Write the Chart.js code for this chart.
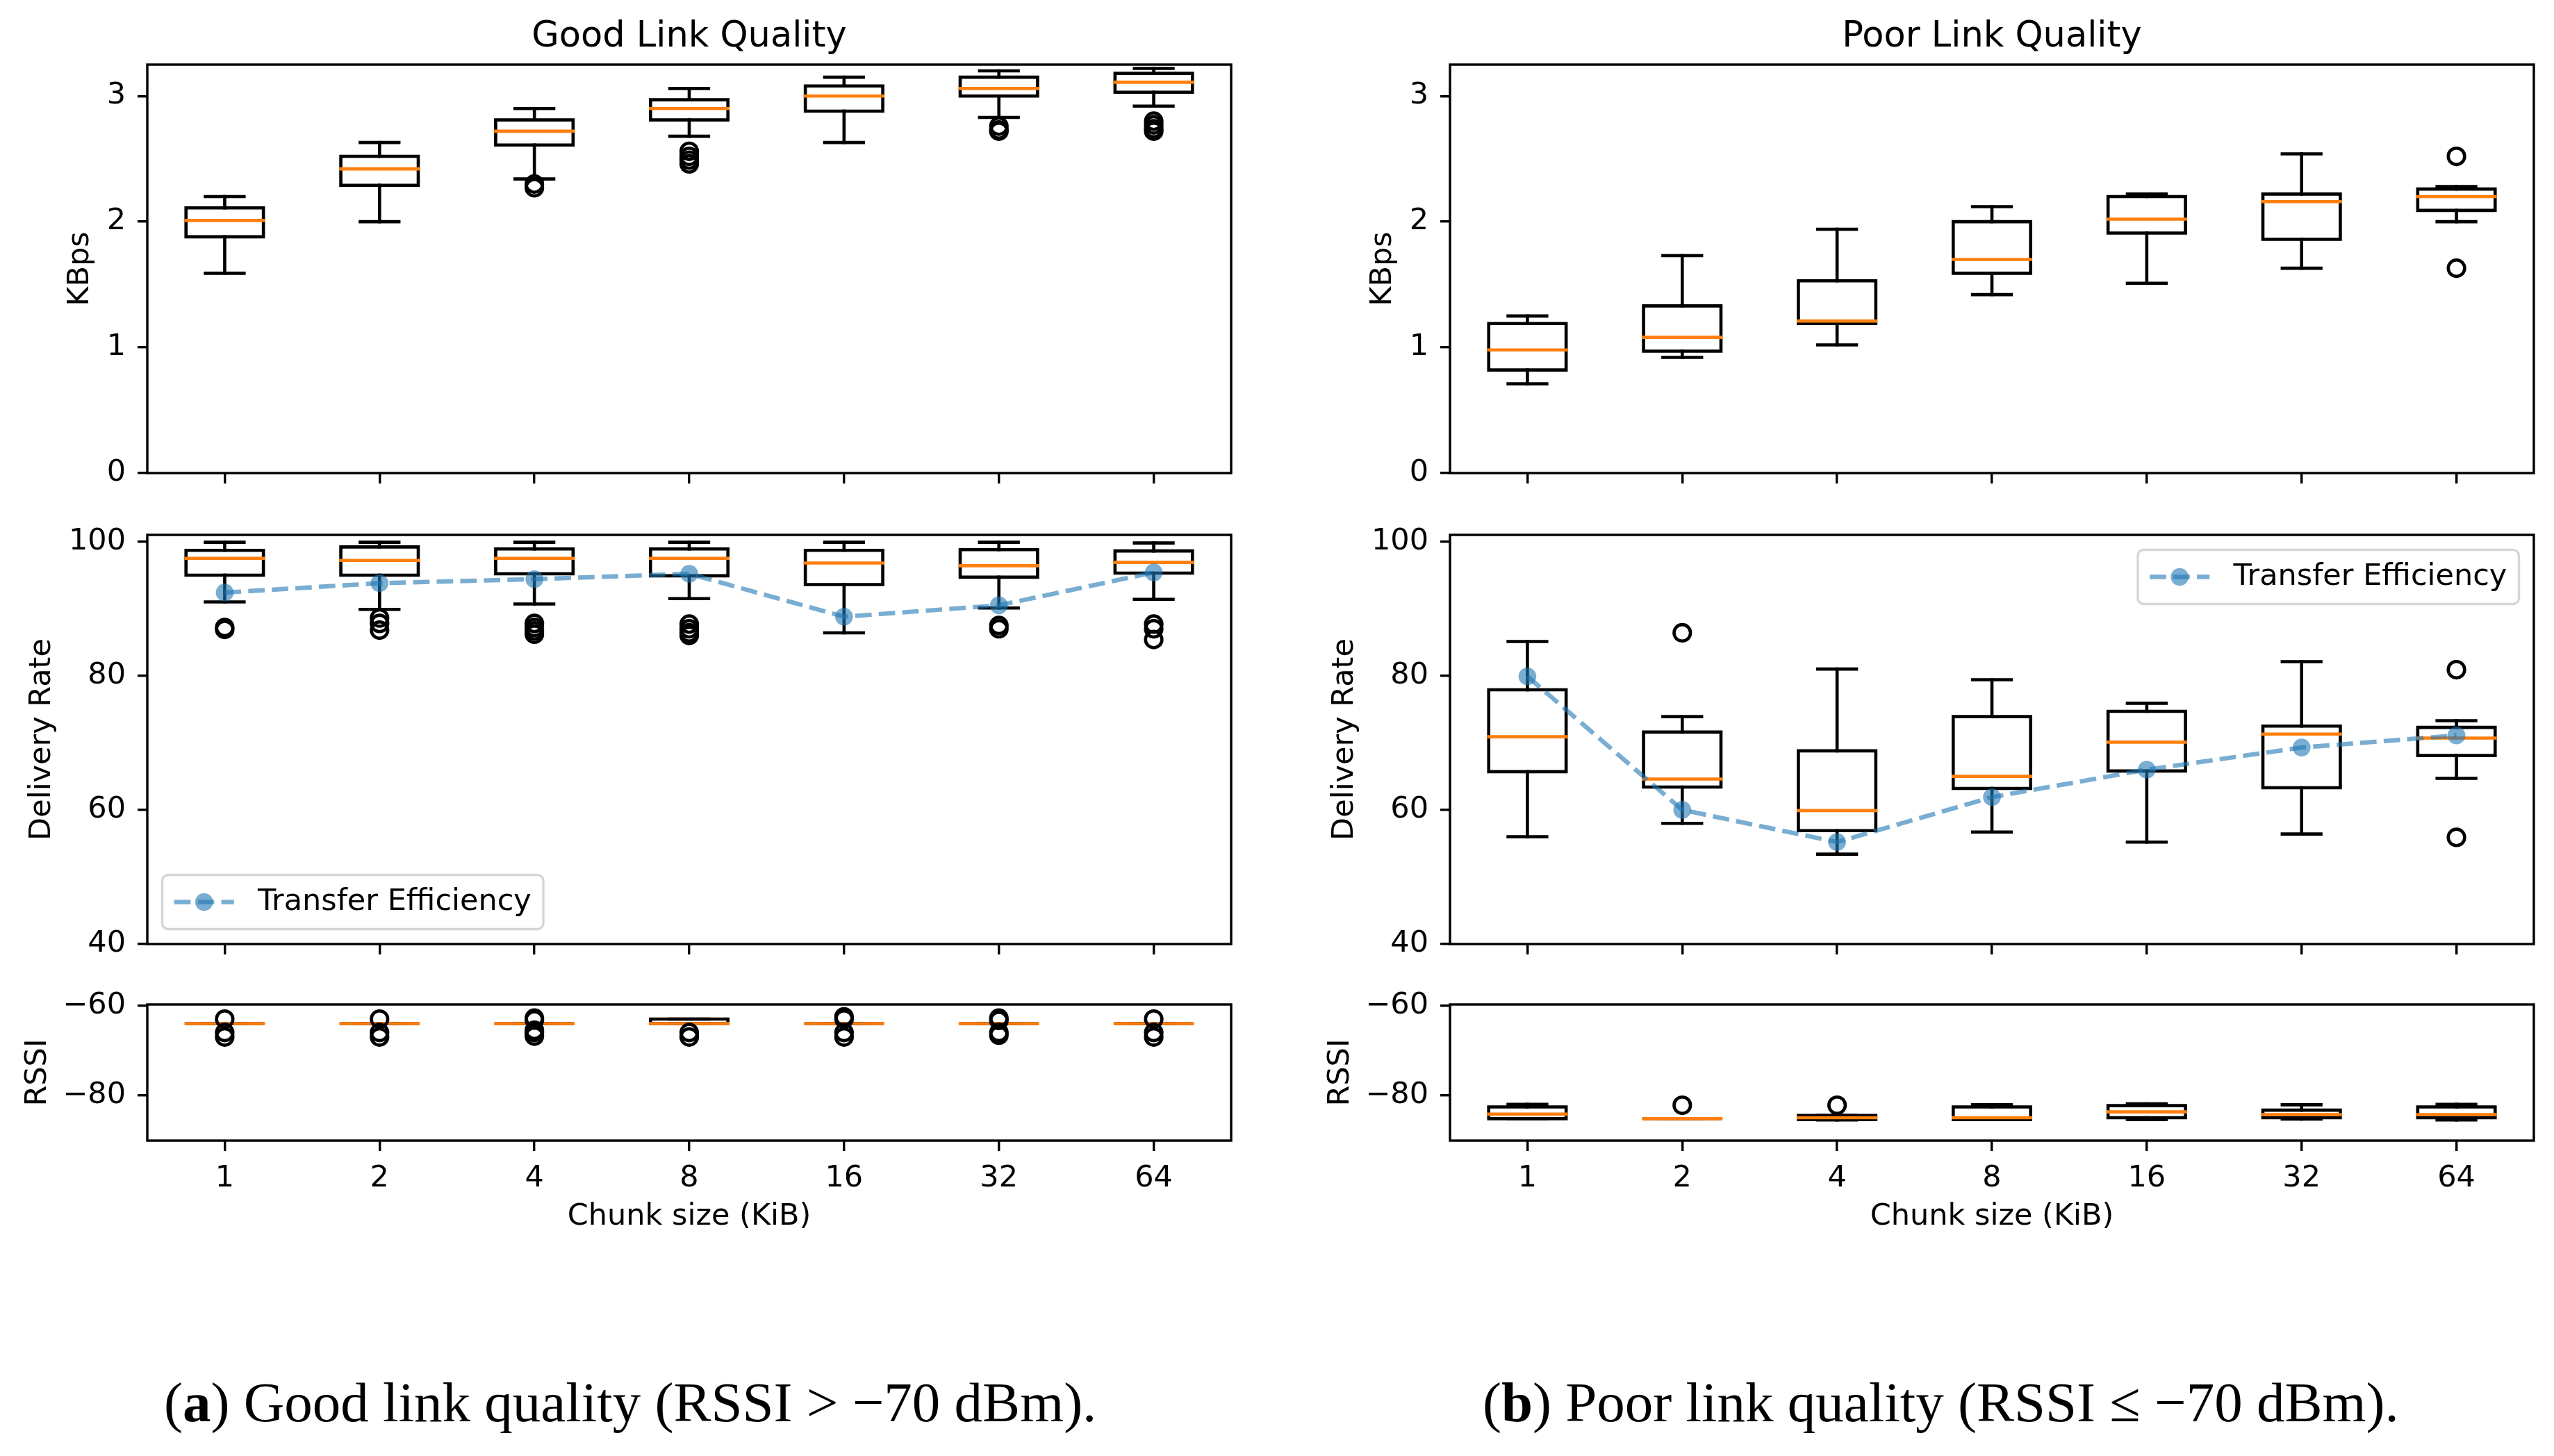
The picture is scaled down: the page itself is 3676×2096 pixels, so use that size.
<!DOCTYPE html>
<html>
<head>
<meta charset="utf-8">
<title>Chunk size vs throughput / delivery / RSSI</title>
<script src="https://cdn.jsdelivr.net/npm/chart.js@4.4.1/dist/chart.umd.min.js"></script>
<style>
    html, body { margin: 0; padding: 0; background: #fff; }
    #page { position: relative; width: 3676px; height: 2096px; overflow: hidden; background: #fff; }
    #page canvas { position: absolute; }
    .caption { position: absolute; font-family: "Liberation Serif", serif; font-size: 81px; line-height: 81px; white-space: nowrap; color: #000; }
</style>
</head>
<body>
<div id="page">
    <canvas id="goodKbps"     width="1838" height="740" style="left:0px;top:0px"></canvas>
    <canvas id="poorKbps"     width="1838" height="740" style="left:1838px;top:0px"></canvas>
    <canvas id="goodDelivery" width="1838" height="720" style="left:0px;top:700px"></canvas>
    <canvas id="poorDelivery" width="1838" height="720" style="left:1838px;top:700px"></canvas>
    <canvas id="goodRssi"     width="1838" height="400" style="left:0px;top:1400px"></canvas>
    <canvas id="poorRssi"     width="1838" height="400" style="left:1838px;top:1400px"></canvas>
    <div class="caption" style="left:236px;top:1979px">(<b>a</b>) Good link quality (RSSI &gt; &minus;70 dBm).</div>
    <div class="caption" style="left:2134px;top:1979px">(<b>b</b>) Poor link quality (RSSI &le; &minus;70 dBm).</div>
</div>
<script>
// ------------------------------------------------------------ DATA
const chunkLabels = ['1', '2', '4', '8', '16', '32', '64'];

// each box: [lower whisker, Q1, median, Q3, upper whisker]
const goodKbpsBoxes = [
    [1.59, 1.88, 2.01, 2.11, 2.20],
    [2.00, 2.29, 2.42, 2.52, 2.63],
    [2.34, 2.61, 2.72, 2.81, 2.90],
    [2.68, 2.81, 2.90, 2.97, 3.06],
    [2.63, 2.88, 3.00, 3.08, 3.15],
    [2.83, 3.00, 3.06, 3.15, 3.20],
    [2.92, 3.03, 3.11, 3.18, 3.22],
];
const goodKbpsFliers = [[], [], [2.30, 2.27], [2.56, 2.52, 2.49, 2.46], [], [2.76, 2.73, 2.72], [2.80, 2.77, 2.74, 2.72]];

const poorKbpsBoxes = [
    [0.71, 0.82, 0.98, 1.19, 1.25],
    [0.92, 0.97, 1.08, 1.33, 1.73],
    [1.02, 1.19, 1.21, 1.53, 1.94],
    [1.42, 1.59, 1.70, 2.00, 2.12],
    [1.51, 1.91, 2.02, 2.20, 2.22],
    [1.63, 1.86, 2.16, 2.22, 2.54],
    [2.00, 2.09, 2.20, 2.26, 2.28],
];
const poorKbpsFliers = [[], [], [], [], [], [], [2.52, 1.63]];

const goodDeliveryBoxes = [
    [91.0, 95.0, 97.5, 98.7, 99.9],
    [89.9, 95.0, 97.2, 99.2, 99.9],
    [90.7, 95.2, 97.5, 98.9, 99.9],
    [91.5, 94.9, 97.5, 98.9, 99.9],
    [86.4, 93.6, 96.8, 98.7, 99.9],
    [90.1, 94.7, 96.4, 98.8, 99.9],
    [91.4, 95.3, 96.9, 98.6, 99.8],
];
const goodDeliveryFliers = [[87.2, 86.9], [88.6, 87.8, 86.8], [87.8, 87.2, 86.7, 86.2], [87.7, 87.0, 86.4, 86.0], [], [87.5, 87.0], [87.7, 87.0, 85.4]];
const goodEfficiency = [92.4, 93.8, 94.4, 95.2, 88.8, 90.5, 95.4];

const poorDeliveryBoxes = [
    [56.0, 65.7, 70.9, 77.9, 85.1],
    [58.0, 63.4, 64.6, 71.6, 73.9],
    [53.4, 56.9, 59.9, 68.8, 81.0],
    [56.7, 63.2, 65.0, 73.9, 79.4],
    [55.2, 65.8, 70.1, 74.7, 75.9],
    [56.4, 63.3, 71.3, 72.5, 82.1],
    [64.7, 68.1, 70.7, 72.3, 73.3],
];
const poorDeliveryFliers = [[], [86.4], [], [], [], [], [80.9, 55.9]];
const poorEfficiency = [79.9, 60.0, 55.2, 61.9, 66.0, 69.3, 71.1];

const goodRssiBoxes = [
    [-64, -64, -64, -64, -64],
    [-64, -64, -64, -64, -64],
    [-64, -64, -64, -64, -64],
    [-64, -64, -64, -63, -63],
    [-64, -64, -64, -64, -64],
    [-64, -64, -64, -64, -64],
    [-64, -64, -64, -64, -64],
];
const goodRssiFliers = [[-63, -66, -67], [-63, -66, -67], [-62.8, -63.2, -65.5, -66, -66.8], [-66, -67], [-62.5, -63, -66, -67], [-62.8, -63.3, -66, -66.6], [-63, -66, -67]];

const poorRssiBoxes = [
    [-85.2, -85.2, -84.2, -82.6, -82.0],
    [-85.2, -85.2, -85.2, -85.2, -85.2],
    [-85.5, -85.4, -85.0, -84.5, -84.5],
    [-85.4, -85.4, -85.0, -82.6, -82.1],
    [-85.4, -85.0, -83.7, -82.3, -81.9],
    [-85.3, -85.0, -84.3, -83.3, -82.1],
    [-85.5, -85.0, -84.3, -82.6, -82.0],
];
const poorRssiFliers = [[], [-82.2], [-82.2], [], [], [], []];

const kbpsTicks     = [0, 1, 2, 3];
const deliveryTicks = [40, 60, 80, 100];
const rssiTicks     = [-80, -60];

// ------------------------------------------------------------ STYLE / LAYOUT
const PT        = 4.27;              // px per point
const LINE_W    = 4.6;               // box / whisker / median lines
const SPINE_W   = 0.8 * PT;
const BOX_W     = 0.5;               // in x units
const CAP_W     = 0.25;
const MEDIAN_C  = '#ff7f0e';
const TE_C      = 'rgba(31,119,180,0.6)';
const FONT      = 'DejaVu Sans';
const FS        = 43;

Chart.defaults.font.family = FONT;
Chart.defaults.font.size   = FS;
Chart.defaults.color       = '#000';

const COLS = [
    { chartLeft: 212, chartRight: 1772, yMid: [116, 61, 55] },
    { chartLeft: 249, chartRight: 1809, yMid: [153, 98, 92] },
];
// canvas-relative; middle canvas starts at 700 so chart top lands at 770
const ROWS = [
    { height: 740, chartTop: 93, chartBottom: 681 },
    { height: 720, chartTop: 70, chartBottom: 659 },
    { height: 400, chartTop: 46, chartBottom: 242 },
];

const panels = [
    { id: 'goodKbps', col: 0, row: 0, boxes: goodKbpsBoxes, fliers: goodKbpsFliers, yMin: 0, yMax: 3.25, yTicks: kbpsTicks, yTitle: 'KBps', title: 'Good Link Quality' },
    { id: 'poorKbps', col: 1, row: 0, boxes: poorKbpsBoxes, fliers: poorKbpsFliers, yMin: 0, yMax: 3.25, yTicks: kbpsTicks, yTitle: 'KBps', title: 'Poor Link Quality' },
    { id: 'goodDelivery', col: 0, row: 1, boxes: goodDeliveryBoxes, fliers: goodDeliveryFliers, te: goodEfficiency, legend: 'lower left', yMin: 40, yMax: 101, yTicks: deliveryTicks, yTitle: 'Delivery Rate' },
    { id: 'poorDelivery', col: 1, row: 1, boxes: poorDeliveryBoxes, fliers: poorDeliveryFliers, te: poorEfficiency, legend: 'upper right', yMin: 40, yMax: 101, yTicks: deliveryTicks, yTitle: 'Delivery Rate' },
    { id: 'goodRssi', col: 0, row: 2, boxes: goodRssiBoxes, fliers: goodRssiFliers, yMin: -90.1, yMax: -59.75, yTicks: rssiTicks, yTitle: 'RSSI', xTitle: 'Chunk size (KiB)' },
    { id: 'poorRssi', col: 1, row: 2, boxes: poorRssiBoxes, fliers: poorRssiFliers, yMin: -90.1, yMax: -59.75, yTicks: rssiTicks, yTitle: 'RSSI', xTitle: 'Chunk size (KiB)' },
];
const specById = Object.fromEntries(panels.map(p => [p.id, p]));

// ------------------------------------------------------------ PLUGINS
const boxPlugin = {
    id: 'boxes',
    beforeDatasetsDraw(chart) {
        const spec = specById[chart.canvas.id];
        const { ctx, chartArea: a } = chart;
        const x = chart.scales.x, y = chart.scales.y;
        const seg = (x1, y1, x2, y2) => { ctx.beginPath(); ctx.moveTo(x1, y1); ctx.lineTo(x2, y2); ctx.stroke(); };
        ctx.save();
        ctx.beginPath(); ctx.rect(a.left, a.top, a.right - a.left, a.bottom - a.top); ctx.clip();
        ctx.lineWidth = LINE_W; ctx.lineCap = 'square'; ctx.lineJoin = 'miter';
        spec.boxes.forEach(([lo, q1, med, q3, hi], i) => {
            const pos = i + 1;
            const bl = x.getPixelForValue(pos - BOX_W / 2), br = x.getPixelForValue(pos + BOX_W / 2);
            const cl = x.getPixelForValue(pos - CAP_W / 2), cr = x.getPixelForValue(pos + CAP_W / 2);
            const xc = x.getPixelForValue(pos);
            const yLo = y.getPixelForValue(lo), yQ1 = y.getPixelForValue(q1), yMed = y.getPixelForValue(med);
            const yQ3 = y.getPixelForValue(q3), yHi = y.getPixelForValue(hi);
            ctx.strokeStyle = '#000';
            ctx.beginPath();
            ctx.moveTo(bl, yQ1); ctx.lineTo(br, yQ1); ctx.lineTo(br, yQ3); ctx.lineTo(bl, yQ3); ctx.closePath();
            ctx.stroke();
            if (lo !== q1) seg(xc, yQ1, xc, yLo);
            if (hi !== q3) seg(xc, yQ3, xc, yHi);
            seg(cl, yLo, cr, yLo);
            seg(cl, yHi, cr, yHi);
            ctx.strokeStyle = MEDIAN_C;
            seg(bl, yMed, br, yMed);
        });
        ctx.restore();
    }
};

const framePlugin = {
    id: 'frame',
    afterDatasetsDraw(chart) {
        const { ctx, chartArea: a } = chart;
        ctx.save();
        ctx.lineWidth = SPINE_W; ctx.strokeStyle = '#000'; ctx.lineJoin = 'miter';
        ctx.strokeRect(a.left, a.top, a.right - a.left, a.bottom - a.top);
        ctx.restore();
    }
};

const legendPlugin = {
    id: 'teLegend',
    afterDatasetsDraw(chart) {
        const spec = specById[chart.canvas.id];
        if (!spec.legend) return;
        const { ctx, chartArea: a } = chart;
        const ds = chart.data.datasets[0];
        const pad = 0.4 * FS, hl = 2 * FS, htp = 0.8 * FS, bap = 0.5 * FS;
        ctx.save();
        ctx.font = FS + 'px "' + FONT + '"';
        const w = pad * 2 + hl + htp + ctx.measureText(ds.label).width, h = 78;
        const x0 = spec.legend === 'upper right' ? a.right - bap - w : a.left + bap;
        const y0 = spec.legend === 'upper right' ? a.top + bap : a.bottom - bap - h;
        ctx.beginPath(); ctx.roundRect(x0, y0, w, h, 0.2 * FS);
        ctx.fillStyle = 'rgba(255,255,255,0.8)'; ctx.fill();
        ctx.lineWidth = SPINE_W; ctx.strokeStyle = 'rgba(204,204,204,0.8)'; ctx.stroke();
        // handle
        const cy = y0 + h / 2, hx = x0 + pad;
        ctx.strokeStyle = ds.borderColor; ctx.lineWidth = ds.borderWidth; ctx.setLineDash(ds.borderDash);
        ctx.beginPath(); ctx.moveTo(hx, cy); ctx.lineTo(hx + hl, cy); ctx.stroke();
        ctx.setLineDash([]);
        ctx.fillStyle = ds.pointBackgroundColor;
        ctx.beginPath(); ctx.arc(hx + hl / 2, cy, ds.pointRadius, 0, Math.PI * 2); ctx.fill();
        // text
        ctx.fillStyle = '#000'; ctx.textAlign = 'left'; ctx.textBaseline = 'middle';
        ctx.fillText(ds.label, hx + hl + htp, cy);
        ctx.restore();
    }
};

// ------------------------------------------------------------ CHARTS
function makePanel(spec) {
    const col = COLS[spec.col], row = ROWS[spec.row];
    const padLeft = col.yMid[spec.row] - FS * 1.2 / 2;
    const yWidth  = col.chartLeft - padLeft;
    const xHeight = row.height - row.chartBottom;
    const showX   = !!spec.xTitle;

    const datasets = [];
    if (spec.te) {
        datasets.push({
            label: 'Transfer Efficiency',
            data: spec.te.map((v, i) => ({ x: i + 1, y: v })),
            borderColor: TE_C,
            borderWidth: 1.5 * PT,
            borderDash: [3.7 * 1.5 * PT, 1.6 * 1.5 * PT],
            pointRadius: 3 * PT,
            pointBackgroundColor: TE_C,
            pointBorderWidth: 0,
            tension: 0,
        });
    }
    datasets.push({
        label: 'fliers',
        data: spec.fliers.flatMap((arr, i) => arr.map(v => ({ x: i + 1, y: v }))),
        showLine: false,
        pointStyle: 'circle',
        pointRadius: 11.8,
        pointBorderWidth: LINE_W,
        pointBorderColor: '#000',
        pointBackgroundColor: 'rgba(0,0,0,0)',
    });

    const tickGrid = { display: true, drawOnChartArea: false, drawTicks: true, color: '#000', lineWidth: SPINE_W };

    return new Chart(document.getElementById(spec.id), {
        type: 'line',
        data: { datasets },
        plugins: [boxPlugin, framePlugin, legendPlugin],
        options: {
            responsive: false,
            devicePixelRatio: 1,
            animation: false,
            events: [],
            layout: {
                autoPadding: false,
                padding: { left: padLeft, right: 1838 - col.chartRight, top: spec.row === 0 ? 0 : row.chartTop, bottom: 0 }
            },
            plugins: {
                legend: { display: false },
                tooltip: { enabled: false },
                title: {
                    display: !!spec.title,
                    text: spec.title || '',
                    fullSize: false,
                    font: { family: FONT, size: 51, weight: 'normal' },
                    color: '#000',
                    padding: { top: 23.1, bottom: 8.7 },
                },
            },
            scales: {
                x: {
                    type: 'linear',
                    min: 0.5, max: 7.5,
                    afterBuildTicks: s => { s.ticks = chunkLabels.map((_, i) => ({ value: i + 1 })); },
                    afterFit: s => { s.height = xHeight; },
                    ticks: {
                        autoSkip: false, maxRotation: 0, padding: 14, color: '#000',
                        font: { family: FONT, size: FS },
                        callback: v => showX ? chunkLabels[Math.round(v) - 1] : '',
                    },
                    grid: Object.assign({ tickLength: 15 }, tickGrid),
                    border: { display: false },
                    title: {
                        display: showX, text: spec.xTitle || '', color: '#000',
                        font: { family: FONT, size: FS },
                        padding: { top: 0, bottom: 22.4 },
                    },
                },
                y: {
                    type: 'linear',
                    min: spec.yMin, max: spec.yMax,
                    afterBuildTicks: s => { s.ticks = spec.yTicks.map(v => ({ value: v })); },
                    afterFit: s => { s.width = yWidth; },
                    ticks: {
                        padding: 17, color: '#000',
                        font: { family: FONT, size: FS },
                        callback: v => v < 0 ? '\u2212' + Math.abs(v) : String(v),
                    },
                    grid: Object.assign({ tickLength: 14 }, tickGrid),
                    border: { display: false },
                    title: {
                        display: true, text: spec.yTitle, color: '#000',
                        font: { family: FONT, size: FS },
                        padding: { top: 0, bottom: 0 },
                    },
                },
            },
        },
    });
}

// ------------------------------------------------------------ DOCUMENT READY
(function () {
    "use strict";
    panels.forEach(makePanel);
})();
</script>
</body>
</html>
